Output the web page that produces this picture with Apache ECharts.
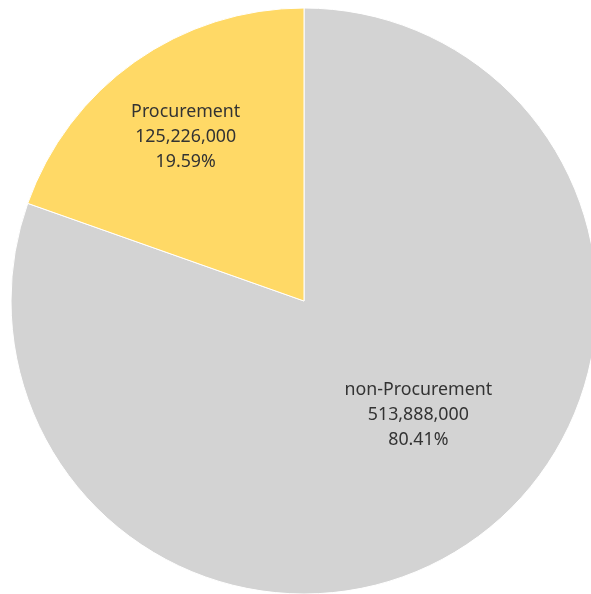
<!DOCTYPE html>
<html>
<head>
<meta charset="utf-8">
<script src="https://cdn.jsdelivr.net/npm/echarts@6/dist/echarts.min.js"></script>
<style>html,body{margin:0;padding:0;background:#fff;}#c{width:591px;height:594px;}</style>
</head>
<body>
<div id="c"></div>
<script>
const categories = ['non-Procurement', 'Procurement'];
const values = [513888000, 125226000];
const colors = ['#D3D3D3', '#FFD966'];
const labelOffsets = [[28, -8], [-32, -42]];

const total = values.reduce((a, b) => a + b, 0);
const chart = echarts.init(document.getElementById('c'), null, {renderer: 'canvas'});
chart.setOption({
  animation: false,
  series: [{
    type: 'pie',
    center: [304, 301],
    radius: [0, 293],
    startAngle: 90,
    clockwise: true,
    data: categories.map((c, i) => ({name: c, value: values[i], itemStyle: {color: colors[i]}})),
    itemStyle: {borderColor: '#fff', borderWidth: 1},
    label: {
      show: true,
      position: 'inside',
      fontFamily: 'Noto Sans',
      fontSize: 17.8,
      lineHeight: 25,
      color: '#333',
      align: 'center',
      formatter: p => p.name + '\n' + p.value.toLocaleString('en-US') + '\n' + (p.value / total * 100).toFixed(2) + '%'
    },
    labelLayout: p => ({dx: labelOffsets[p.dataIndex][0], dy: labelOffsets[p.dataIndex][1]}),
    emphasis: {disabled: true}
  }]
});
</script>
</body>
</html>
